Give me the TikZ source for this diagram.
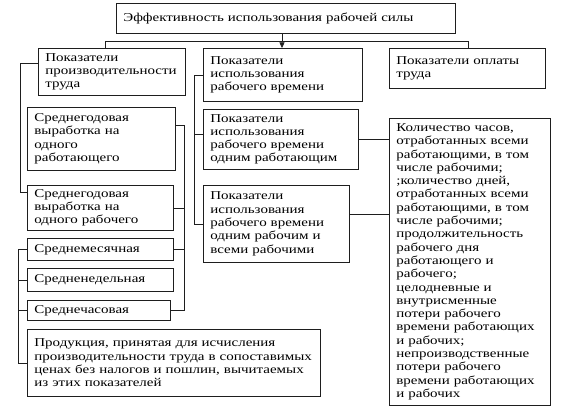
\documentclass[tikz,border=0pt]{standalone}
\usepackage{fontspec}
\setmainfont{Liberation Serif}[FakeStretch=1.25]
\usetikzlibrary{arrows.meta,positioning,calc}
\definecolor{inkgray}{HTML}{1E1E1E}

\begin{document}
\begin{tikzpicture}[
        x=1pt, y=-1pt,
        box/.style={
          draw=inkgray,
          line width=0.7pt,
          anchor=north west,
          align=left,
          inner xsep=7pt,
          inner ysep=2pt,
          font=\fontsize{12}{13.3}\selectfont
        },
        link/.style={
          line width=0.6pt,
          inkgray
        },
        arrow/.style={
          -{Triangle[length=2mm,width=1.8mm]},
          line width=0.6pt,
          inkgray
        }
      ]

      \useasboundingbox (0,0) rectangle (566,411);

      \node[box, text width=325pt, minimum height=30pt] (efficiency) at (116,3) {
        Эффективность использования рабочей силы
      };

      \node[box, text width=133pt, minimum height=47pt] (productivity) at (38,48) {
        Показатели\\производительности\\труда
      };

      \node[box, text width=145pt, minimum height=53pt] (worktime) at (203,48) {
        Показатели\\использования\\рабочего времени
      };

      \node[box, text width=142pt, minimum height=40pt] (wages) at (389,48) {
        Показатели оплаты\\труда
      };

      \node[box, text width=134pt, minimum height=63pt] (peremployee) at (27,107) {
        Среднегодовая\\выработка на\\одного\\работающего
      };

      \node[box, text width=132pt, minimum height=45pt] (perworker) at (27,185) {
        Среднегодовая\\выработка на\\одного рабочего
      };

      \node[box, text width=132pt, minimum height=22pt] (monthly) at (27,238) {
        Среднемесячная
      };

      \node[box, text width=132pt, minimum height=23pt] (weekly) at (27,268) {
        Средненедельная
      };

      \node[box, text width=129pt, minimum height=20pt] (hourly) at (27,300) {
        Среднечасовая
      };

      \node[box, text width=279pt, minimum height=67pt] (output) at (27,329) {
        Продукция, принятая для исчисления\\
        производительности труда в сопоставимых\\
        ценах без налогов и пошлин, вычитаемых\\
        из этих показателей
      };

      \node[box, text width=141pt, minimum height=60pt] (timeemployee) at (203,109) {
        Показатели\\использования\\рабочего времени\\одним работающим
      };

      \node[box, text width=132pt, minimum height=77pt] (timeworker) at (203,185) {
        Показатели\\использования\\рабочего времени\\одним рабочим и\\всеми рабочими
      };

      \node[box, text width=147pt, minimum height=287pt] (timelist) at (389,118) {
        Количество часов,\\
        отработанных всеми\\
        работающими, в том\\
        числе рабочими;\\
        ;количество дней,\\
        отработанных всеми\\
        работающими, в том\\
        числе рабочими;\\
        продолжительность\\
        рабочего дня\\
        работающего и\\
        рабочего;\\
        целодневные и\\
        внутрисменные\\
        потери рабочего\\
        времени работающих\\
        и рабочих;\\
        непроизводственные\\
        потери рабочего\\
        времени работающих\\
        и рабочих
      };

      \coordinate (busleft) at (105,41);
      \coordinate (busright) at (468,41);
      \coordinate (arrowx) at (282,0);
      \coordinate (leftrail) at (20,0);
      \coordinate (lowrail) at (18,0);
      \coordinate (rightrail) at (184,0);
      \coordinate (midrail) at (194,0);

      \draw[link] (productivity.north -| busleft) |- (busright) -- (wages.north -| busright);
      \draw[arrow] (efficiency.south -| arrowx) -- (worktime.north -| arrowx);

      \draw[link] ([yshift=-15pt]productivity.north west) -| ([yshift=-7pt]perworker.north west -| leftrail) -- ([yshift=-7pt]perworker.north west);

      \draw[link] ([yshift=-18pt]peremployee.north east) -| (hourly.east -| rightrail) -- (hourly.east);
      \draw[link] (perworker.east) -- (perworker.east -| rightrail);
      \draw[link] (monthly.east) -- (monthly.east -| rightrail);

      \draw[link] (monthly.west) -| (output.west -| lowrail) -- (output.west);
      \draw[link] (weekly.west) -- (weekly.west -| lowrail);
      \draw[link] (hourly.west) -- (hourly.west -| lowrail);

      \draw[link] (worktime.west) -| (timeworker.west -| midrail) -- (timeworker.west);
      \draw[link] ([yshift=5pt]timeemployee.west) -- ([yshift=5pt]timeemployee.west -| midrail);

      \draw[link] (timeemployee.east) -- (timeemployee.east -| timelist.west);
      \draw[link] ([yshift=10pt]timeworker.east) -- ([yshift=10pt]timeworker.east -| timelist.west);

      \end{tikzpicture}
\end{document}
